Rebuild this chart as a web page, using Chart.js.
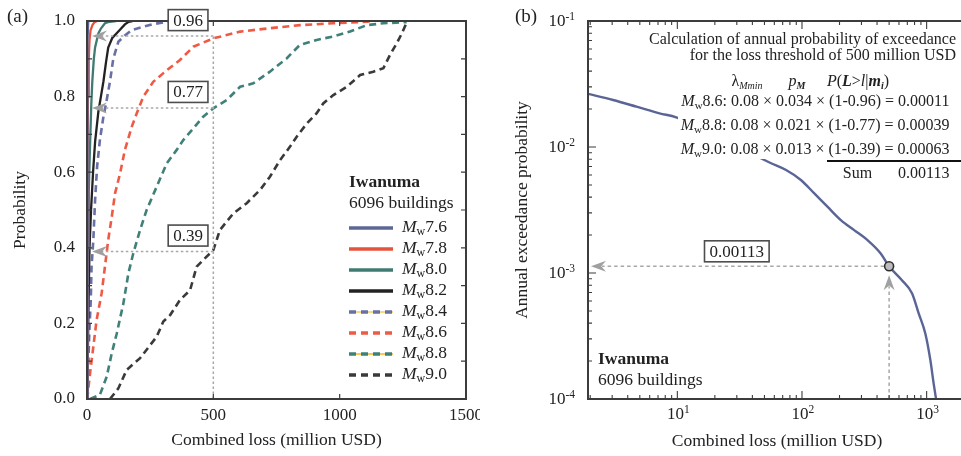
<!DOCTYPE html>
<html>
<head>
<meta charset="utf-8">
<script src="https://cdn.jsdelivr.net/npm/chart.js@4.4.3/dist/chart.umd.min.js"></script>
<style>
  html, body { margin: 0; padding: 0; background: #fff; overflow: hidden; }
  body { width: 961px; height: 456px; position: relative; }
  .panel { position: absolute; top: 0; height: 456px; }
  #panel-a { left: 0; width: 480px; }
  #panel-b { left: 480px; width: 510px; }
</style>
</head>
<body>
<div class="panel" id="panel-a"><canvas id="cdf-chart"></canvas></div>
<div class="panel" id="panel-b"><canvas id="ep-chart"></canvas></div>
<script>
const SERIF = '"Liberation Serif", "Times New Roman", serif';
const TEXT = "#222";

// ---- panel (a): loss CDF per scenario, [loss (million USD), probability]
const magnitudes = ["7.6", "7.8", "8.0", "8.2", "8.4", "8.6", "8.8", "9.0"];
const cdfMw76 = [[0, 0], [1, 0.5], [2, 0.8], [3, 0.95], [5, 1]];
const cdfMw78 = [[0, 0], [1, 0.3], [2, 0.6], [4, 0.8], [7, 0.9], [10, 0.95], [14, 0.975], [22, 0.99], [30, 0.997], [40, 1]];
const cdfMw80 = [[0, 0], [2, 0.2], [4, 0.4], [7, 0.55], [12, 0.67], [17, 0.78], [21, 0.84], [27, 0.9], [32, 0.93], [45, 0.967], [55, 0.98], [71, 0.994], [90, 0.998], [115, 1]];
const cdfMw82 = [[0, 0], [3, 0.1], [6, 0.25], [10, 0.4], [16, 0.5], [24, 0.6], [32, 0.68], [45, 0.76], [55, 0.8], [65, 0.84], [75, 0.89], [84, 0.93], [100, 0.955], [124, 0.972], [150, 0.991], [165, 0.998], [180, 1]];
const cdfMw84 = [[1, 0], [5, 0.085], [9, 0.174], [15, 0.262], [18, 0.35], [25, 0.42], [32, 0.526], [40, 0.615], [51, 0.685], [65, 0.747], [75, 0.78], [91, 0.84], [104, 0.9], [124, 0.945], [150, 0.962], [177, 0.976], [256, 0.991], [316, 0.998], [330, 1]];
const cdfMw86 = [[1, 0], [12, 0.068], [25, 0.138], [38, 0.209], [58, 0.28], [71, 0.35], [84, 0.421], [98, 0.482], [111, 0.544], [131, 0.597], [150, 0.659], [177, 0.72], [197, 0.756], [223, 0.8], [262, 0.839], [316, 0.87], [368, 0.897], [421, 0.932], [500, 0.954], [606, 0.972], [711, 0.98], [843, 0.989], [975, 0.994], [1133, 0.999]];
const cdfMw88 = [[12, 0], [51, 0.011], [78, 0.059], [98, 0.121], [118, 0.174], [144, 0.253], [164, 0.333], [183, 0.385], [210, 0.447], [236, 0.5], [276, 0.562], [316, 0.624], [355, 0.659], [381, 0.685], [421, 0.716], [460, 0.747], [500, 0.769], [553, 0.791], [606, 0.826], [658, 0.835], [724, 0.866], [790, 0.901], [843, 0.937], [909, 0.95], [975, 0.959], [1041, 0.972], [1107, 0.989], [1173, 0.994], [1265, 0.997]];
const cdfMw90 = [[91, 0], [124, 0.028], [157, 0.077], [210, 0.108], [276, 0.165], [302, 0.205], [329, 0.222], [368, 0.262], [408, 0.288], [434, 0.35], [460, 0.368], [500, 0.394], [526, 0.447], [579, 0.491], [632, 0.518], [685, 0.553], [724, 0.588], [764, 0.632], [803, 0.667], [830, 0.694], [870, 0.729], [909, 0.756], [935, 0.782], [975, 0.804], [1028, 0.826], [1081, 0.857], [1133, 0.866], [1173, 0.875], [1199, 0.91], [1226, 0.941], [1246, 0.967], [1265, 0.996], [1270, 1]];
const probTicks = [0, 0.2, 0.4, 0.6, 0.8, 1.0];
const lossTicks = [0, 500, 1000, 1500];
const thresholdLoss = 500;
const thresholdProbs = [0.96, 0.77, 0.39];

// ---- panel (b): annual exceedance probability curve
const epLoss = [1.92, 3.05, 4.7, 7.2, 9.8, 56.5, 74.5, 98, 125, 160, 205, 262, 334, 428, 500, 631, 763, 862, 977, 1071, 1138, 1190];
const epProb = [0.0264, 0.0236, 0.0209, 0.0185, 0.0172, 0.00743, 0.00656, 0.00547, 0.0043, 0.00336, 0.00263, 0.00219, 0.00183, 0.00143, 0.00113, 0.00088, 0.00069, 0.00048, 0.00033, 0.000204, 0.000133, 0.0001];
const annualProbAtThreshold = 0.00113;
const logLossTicks = [10, 100, 1000];
const logProbTicks = [1e-4, 1e-3, 1e-2, 1e-1];

const font = (size, style = "") => `${style} ${size}px ${SERIF}`.trim();

function drawRuns(ctx, runs, x, y, align = "left") {
  let total = 0;
  const widths = runs.map((run) => {
    ctx.font = run.font;
    const w = ctx.measureText(run.text).width;
    total += w;
    return w;
  });
  let cx = align === "right" ? x - total : align === "center" ? x - total / 2 : x;
  ctx.textAlign = "left";
  ctx.textBaseline = "middle";
  runs.forEach((run, i) => {
    ctx.font = run.font;
    ctx.fillStyle = run.color || TEXT;
    ctx.fillText(run.text, cx, y + (run.dy || 0));
    cx += widths[i];
  });
}

function mwRuns(size, rest) {
  return [
    { text: "M", font: font(size, "italic") },
    { text: "w", font: font(Math.round(size * 0.68)), dy: size * 0.26 },
    { text: rest, font: font(size) },
  ];
}

function arrowHead(ctx, tipX, tipY, dir, len = 14, half = 5) {
  ctx.beginPath();
  if (dir === "left") {
    ctx.moveTo(tipX, tipY);
    ctx.lineTo(tipX + len, tipY - half);
    ctx.lineTo(tipX + len * 0.68, tipY);
    ctx.lineTo(tipX + len, tipY + half);
  } else {
    ctx.moveTo(tipX, tipY);
    ctx.lineTo(tipX - half, tipY + len);
    ctx.lineTo(tipX, tipY + len * 0.68);
    ctx.lineTo(tipX + half, tipY + len);
  }
  ctx.closePath();
  ctx.fill();
}

function labelBox(ctx, text, cx, cy, size) {
  ctx.font = font(size);
  const w = ctx.measureText(text).width + 10;
  const h = 21;
  ctx.save();
  ctx.setLineDash([]);
  ctx.fillStyle = "#fff";
  ctx.fillRect(cx - w / 2, cy - h / 2, w, h);
  ctx.strokeStyle = "#4d4d4d";
  ctx.lineWidth = 1.6;
  ctx.strokeRect(cx - w / 2, cy - h / 2, w, h);
  ctx.fillStyle = TEXT;
  ctx.textAlign = "center";
  ctx.textBaseline = "middle";
  ctx.fillText(text, cx, cy + 1);
  ctx.restore();
}

function fixedAxis(size, horizontal) {
  return (scale) => {
    if (horizontal) scale.height = size;
    else scale.width = size;
    scale.paddingLeft = 0;
    scale.paddingRight = 0;
    scale.paddingTop = 0;
    scale.paddingBottom = 0;
  };
}

// ---------------- panel (a)
const cdfSeries = [cdfMw76, cdfMw78, cdfMw80, cdfMw82, cdfMw84, cdfMw86, cdfMw88, cdfMw90];
const cdfColors = ["#5d6796", "#e5533d", "#3f7b72", "#222222", "#6870a4", "#ef5a45", "#3f8078", "#3a3a3a"];
const cdfDashed = [false, false, false, false, true, true, true, true];
const legendUnder = [null, null, null, null, "#f6cd5a", null, "#f6b820", null];

const cdfPanelPlugin = {
  id: "cdfPanel",
  afterDatasetsDraw(chart) {
    const { ctx, chartArea: a, scales: { x, y } } = chart;
    ctx.save();

    // guide lines at the 500 million USD threshold
    const xT = x.getPixelForValue(thresholdLoss);
    ctx.strokeStyle = "#a8a8a8";
    ctx.fillStyle = "#a0a0a0";
    ctx.lineWidth = 1.5;
    ctx.setLineDash([2.5, 2.5]);
    ctx.beginPath();
    ctx.moveTo(xT, a.bottom);
    ctx.lineTo(xT, y.getPixelForValue(Math.max(...thresholdProbs)));
    ctx.stroke();
    thresholdProbs.forEach((p) => {
      const py = y.getPixelForValue(p);
      ctx.setLineDash([2.5, 2.5]);
      ctx.beginPath();
      ctx.moveTo(xT, py);
      ctx.lineTo(a.left + 15, py);
      ctx.stroke();
      ctx.setLineDash([]);
      arrowHead(ctx, a.left + 5, py, "left", 15, 5.5);
    });

    // frame
    ctx.setLineDash([]);
    ctx.strokeStyle = "#3c3c3c";
    ctx.lineWidth = 2;
    ctx.strokeRect(a.left, a.top, a.right - a.left, a.bottom - a.top);

    // inward ticks
    ctx.lineWidth = 1.2;
    ctx.beginPath();
    for (let i = 1; i < 10; i++) {
      const py = y.getPixelForValue(i / 10);
      ctx.moveTo(a.left, py); ctx.lineTo(a.left + 5, py);
      ctx.moveTo(a.right, py); ctx.lineTo(a.right - 5, py);
    }
    lossTicks.slice(1, -1).forEach((v) => {
      const px = x.getPixelForValue(v);
      ctx.moveTo(px, a.bottom); ctx.lineTo(px, a.bottom - 5);
      ctx.moveTo(px, a.top); ctx.lineTo(px, a.top + 5);
    });
    ctx.stroke();

    // value boxes
    const boxX = x.getPixelForValue(400);
    thresholdProbs.forEach((p) => {
      labelBox(ctx, p.toFixed(2), boxX, y.getPixelForValue(p) - 16, 17);
    });

    // legend
    const lx = a.left + 262;
    let ly = 182;
    drawRuns(ctx, [{ text: "Iwanuma", font: font(17.5, "bold") }], lx, ly);
    drawRuns(ctx, [{ text: "6096 buildings", font: font(17.5) }], lx, ly + 21);
    chart.data.datasets.forEach((ds, i) => {
      const rowY = 228 + 21 * i;
      if (legendUnder[i]) {
        ctx.setLineDash([]);
        ctx.strokeStyle = legendUnder[i];
        ctx.lineWidth = 1.5;
        ctx.beginPath(); ctx.moveTo(lx, rowY); ctx.lineTo(lx + 44, rowY); ctx.stroke();
      }
      ctx.strokeStyle = ds.borderColor;
      ctx.lineWidth = 3.5;
      ctx.setLineDash(cdfDashed[i] ? [7, 5] : []);
      ctx.beginPath(); ctx.moveTo(lx, rowY); ctx.lineTo(lx + 44, rowY); ctx.stroke();
      drawRuns(ctx, mwRuns(17.5, magnitudes[i]), lx + 53, rowY - 1);
    });

    drawRuns(ctx, [{ text: "(a)", font: font(19) }], 7, 17);
    ctx.restore();
  },
};

new Chart(document.getElementById("cdf-chart"), {
  type: "scatter",
  data: {
    datasets: cdfSeries.map((series, i) => ({
      label: `Mw${magnitudes[i]}`,
      data: series.map(([loss, prob]) => ({ x: loss, y: prob })),
      showLine: true,
      pointRadius: 0,
      borderColor: cdfColors[i],
      borderWidth: cdfDashed[i] ? 2.6 : 2.3,
      borderDash: cdfDashed[i] ? [7, 4.5] : [],
      tension: 0,
    })),
  },
  options: {
    responsive: true,
    maintainAspectRatio: false,
    animation: false,
    devicePixelRatio: 1,
    events: [],
    layout: { padding: { left: 0, right: 14, top: 21, bottom: 0 } },
    scales: {
      x: {
        type: "linear",
        min: 0,
        max: 1500,
        afterBuildTicks(scale) { scale.ticks = lossTicks.map((value) => ({ value })); },
        afterFit: fixedAxis(57, true),
        grid: { display: false, drawTicks: false },
        border: { display: false },
        ticks: { color: TEXT, font: { family: SERIF, size: 17 }, padding: 6, maxRotation: 0, autoSkip: false, callback: (v) => String(v) },
        title: { display: true, text: "Combined loss (million USD)", color: TEXT, font: { family: SERIF, size: 17.5 }, padding: { bottom: 5 } },
      },
      y: {
        type: "linear",
        min: 0,
        max: 1,
        afterBuildTicks(scale) { scale.ticks = probTicks.map((value) => ({ value })); },
        afterFit: fixedAxis(87, false),
        grid: { display: false, drawTicks: false },
        border: { display: false },
        ticks: { color: TEXT, font: { family: SERIF, size: 17 }, padding: 12, autoSkip: false, callback: (v) => Number(v).toFixed(1) },
        title: { display: true, text: "Probability", color: TEXT, font: { family: SERIF, size: 17.5 }, padding: { top: 10 } },
      },
    },
    plugins: { legend: { display: false }, tooltip: { enabled: false } },
  },
  plugins: [cdfPanelPlugin],
});

// ---------------- panel (b)
function powerLabel(ctx, exponent, x, y, align) {
  const runs = [
    { text: "10", font: font(17) },
    { text: String(exponent), font: font(11.5), dy: -5 },
  ];
  drawRuns(ctx, runs, x, y, align);
}

const epPanelPlugin = {
  id: "epPanel",
  beforeDatasetsDraw(chart) {
    const { ctx, chartArea: a, scales: { x, y } } = chart;
    const px = x.getPixelForValue(thresholdLoss);
    const py = y.getPixelForValue(annualProbAtThreshold);
    ctx.save();
    ctx.strokeStyle = "#a8a8a8";
    ctx.fillStyle = "#a0a0a0";
    ctx.lineWidth = 1.5;
    ctx.setLineDash([3.5, 3]);
    ctx.beginPath();
    ctx.moveTo(px - 5, py);
    ctx.lineTo(a.left + 14, py);
    ctx.moveTo(px, a.bottom);
    ctx.lineTo(px, py + 20);
    ctx.stroke();
    ctx.setLineDash([]);
    arrowHead(ctx, a.left + 3, py, "left", 15, 5.5);
    arrowHead(ctx, px, py + 9, "up", 15, 5.5);
    labelBox(ctx, annualProbAtThreshold.toFixed(5), x.getPixelForValue(30), py - 15, 17);
    ctx.restore();
  },
  afterDatasetsDraw(chart) {
    const { ctx, chartArea: a, scales: { x, y } } = chart;
    ctx.save();

    // calculation block, on a white ground
    ctx.fillStyle = "#fff";
    ctx.fillRect(198, 28, 320, 131);
    const right = 476;
    drawRuns(ctx, [{ text: "Calculation of annual probability of exceedance", font: font(16) }], right, 40, "right");
    drawRuns(ctx, [{ text: "for the loss threshold of 500 million USD", font: font(16) }], right, 55.5, "right");
    drawRuns(ctx, [
      { text: "λ", font: font(16) },
      { text: "Mmin", font: font(10, "italic"), dy: 4 },
    ], 267, 82, "center");
    drawRuns(ctx, [
      { text: "p", font: font(16, "italic") },
      { text: "M", font: font(10, "italic bold"), dy: 4 },
    ], 317, 82, "center");
    drawRuns(ctx, [
      { text: "P", font: font(16, "italic") },
      { text: "(", font: font(16) },
      { text: "L", font: font(16, "italic bold") },
      { text: ">", font: font(16) },
      { text: "l", font: font(16, "italic") },
      { text: "|", font: font(16) },
      { text: "m", font: font(16, "italic bold") },
      { text: "i", font: font(10, "italic bold"), dy: 4 },
      { text: ")", font: font(16) },
    ], 378, 82, "center");
    const rowsRight = 469.5;
    drawRuns(ctx, mwRuns(16, "8.6: 0.08 × 0.034 × (1-0.96) = 0.00011"), rowsRight, 102, "right");
    drawRuns(ctx, mwRuns(16, "8.8: 0.08 × 0.021 × (1-0.77) = 0.00039"), rowsRight, 125.5, "right");
    drawRuns(ctx, mwRuns(16, "9.0: 0.08 × 0.013 × (1-0.39) = 0.00063"), rowsRight, 150, "right");
    ctx.strokeStyle = "#111";
    ctx.lineWidth = 2;
    ctx.beginPath(); ctx.moveTo(347, 161); ctx.lineTo(510, 161); ctx.stroke();
    drawRuns(ctx, [{ text: "Sum", font: font(16) }], 377.5, 173.5, "center");
    drawRuns(ctx, [{ text: "0.00113", font: font(16) }], rowsRight, 173.5, "right");

    drawRuns(ctx, [{ text: "Iwanuma", font: font(17.5, "bold") }], a.left + 10, 359);
    drawRuns(ctx, [{ text: "6096 buildings", font: font(17.5) }], a.left + 10, 380);

    // frame
    ctx.strokeStyle = "#3c3c3c";
    ctx.lineWidth = 2;
    ctx.strokeRect(a.left, a.top, a.right - a.left, a.bottom - a.top);

    // inward log ticks
    ctx.lineWidth = 1.1;
    ctx.beginPath();
    for (let e = 0; e <= 3; e++) {
      for (let m = 1; m < 10; m++) {
        const v = m * Math.pow(10, e);
        if (v < x.min || v > x.max) continue;
        const tx = x.getPixelForValue(v);
        const len = m === 1 ? 8 : 4;
        ctx.moveTo(tx, a.bottom); ctx.lineTo(tx, a.bottom - len);
        ctx.moveTo(tx, a.top); ctx.lineTo(tx, a.top + len);
      }
    }
    for (let e = -4; e <= -1; e++) {
      for (let m = 1; m < 10; m++) {
        const v = m * Math.pow(10, e);
        if (v < y.min || v > y.max * 1.0001) continue;
        const ty = y.getPixelForValue(v);
        const len = m === 1 ? 8 : 4;
        ctx.moveTo(a.left, ty); ctx.lineTo(a.left + len, ty);
        ctx.moveTo(a.right, ty); ctx.lineTo(a.right - len, ty);
      }
    }
    ctx.stroke();

    // tick labels with superscripts
    logProbTicks.forEach((v) => powerLabel(ctx, Math.round(Math.log10(v)), a.left - 13, y.getPixelForValue(v) + 1, "right"));
    logLossTicks.forEach((v) => powerLabel(ctx, Math.round(Math.log10(v)), x.getPixelForValue(v) + 1, a.bottom + 16, "center"));

    // x-axis title, centred where the source figure has it
    drawRuns(ctx, [{ text: "Combined loss (million USD)", font: font(17.5) }], 297, 441, "center");

    drawRuns(ctx, [{ text: "(b)", font: font(19) }], 35, 17);
    ctx.restore();
  },
};

new Chart(document.getElementById("ep-chart"), {
  type: "scatter",
  data: {
    datasets: [
      {
        label: "Threshold",
        data: [{ x: thresholdLoss, y: annualProbAtThreshold }],
        pointRadius: 4.5,
        pointBackgroundColor: "#bdbdbd",
        pointBorderColor: "#2e2e2e",
        pointBorderWidth: 1.6,
      },
      {
        label: "Annual exceedance probability",
        data: epLoss.map((loss, i) => ({ x: loss, y: epProb[i] })),
        showLine: true,
        pointRadius: 0,
        borderColor: "#5a6596",
        borderWidth: 2.4,
        cubicInterpolationMode: "monotone",
      },
    ],
  },
  options: {
    responsive: true,
    maintainAspectRatio: false,
    animation: false,
    devicePixelRatio: 1,
    events: [],
    layout: { padding: { left: 0, right: 5, top: 21, bottom: 0 } },
    scales: {
      x: {
        type: "logarithmic",
        min: 1.92,
        max: 2880,
        afterFit: fixedAxis(57, true),
        grid: { display: false, drawTicks: false },
        border: { display: false },
        ticks: { display: false },
        title: { display: false },
      },
      y: {
        type: "logarithmic",
        min: 1e-4,
        max: 1e-1,
        afterFit: fixedAxis(108, false),
        grid: { display: false, drawTicks: false },
        border: { display: false },
        ticks: { display: false },
        title: { display: true, text: "Annual exceedance probability", color: TEXT, font: { family: SERIF, size: 17.5 }, padding: { top: 32 } },
      },
    },
    plugins: { legend: { display: false }, tooltip: { enabled: false } },
  },
  plugins: [epPanelPlugin],
});
</script>
</body>
</html>
